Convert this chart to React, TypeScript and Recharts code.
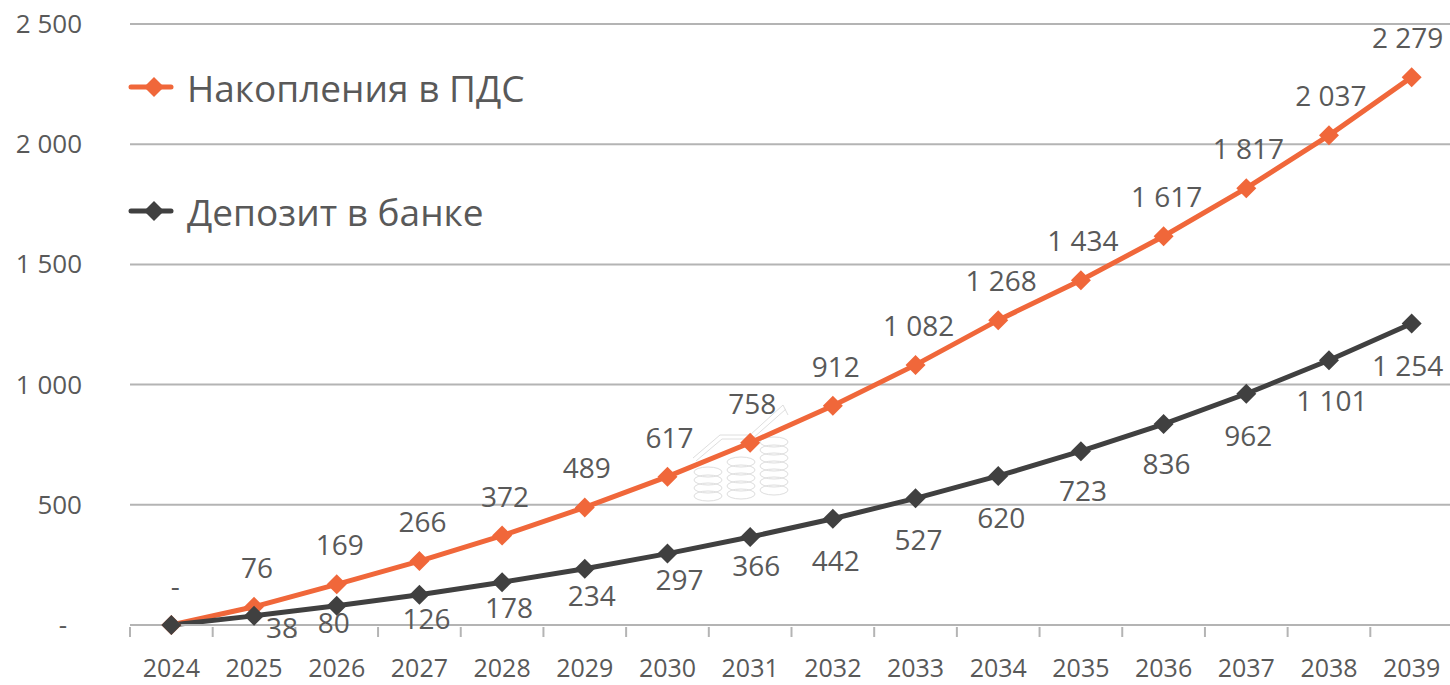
import React from 'react';
import { LineChart, Line, XAxis, YAxis, CartesianGrid, LabelList, Legend } from 'recharts';

const years = ['2024', '2025', '2026', '2027', '2028', '2029', '2030', '2031', '2032', '2033', '2034', '2035', '2036', '2037', '2038', '2039'];
const pdsSavings = [0, 76, 169, 266, 372, 489, 617, 758, 912, 1082, 1268, 1434, 1617, 1817, 2037, 2279];
const bankDeposit = [0, 38, 80, 126, 178, 234, 297, 366, 442, 527, 620, 723, 836, 962, 1101, 1254];
const yTicks = [0, 500, 1000, 1500, 2000, 2500];

// hand placed label offsets, same as in the source picture
const pdsLabelDx = [4, 3, 3, 3, 3, 2, 2, 2, 3, 3, 3, 2, 3, 2, 2, -4];
const depositLabelDx = [0, 28, -3, 7, 7, 7, 12, 6, 3, 3, 3, 2, 3, 2, 3, -4];
const depositLabelDy = [0, 12, 17, 24, 26, 27, 26, 29, 42, 42, 42, 40, 40, 42, 41, 42];

const ORANGE = '#F0673A';
const DARK = '#404040';
const TEXT = '#595959';
const GRID = '#B4B4B4';
const FONT = '"Open Sans", sans-serif';

const data = years.map((year, i) => ({ year, pds: pdsSavings[i], deposit: bankDeposit[i] }));

const formatValue = (v: number) => (v === 0 ? '-' : String(v).replace(/\B(?=(\d{3})+$)/g, ' '));

function Diamond({ cx, cy, fill }: any) {
  const r = 10;
  return <path d={`M${cx} ${cy - r}L${cx + r} ${cy}L${cx} ${cy + r}L${cx - r} ${cy}Z`} fill={fill} />;
}

function XTick({ x, y, payload }: any) {
  const edge = x - payload.offset;
  return (
    <g>
      <line x1={edge} x2={edge} y1={y} y2={y + 10} stroke={GRID} strokeWidth={2} />
      <text x={x} y={y + 50} textAnchor="middle" fontFamily={FONT} fontSize={25} fill={TEXT}>
        {payload.value}
      </text>
    </g>
  );
}

function YTick({ x, y, payload }: any) {
  const isZero = payload.value === 0;
  return (
    <text x={isZero ? x - 15 : x} y={y + 9} textAnchor="end" fontFamily={FONT} fontSize={26} fill={TEXT}>
      {formatValue(payload.value)}
    </text>
  );
}

function PdsLabel({ x, y, value, index }: any) {
  return (
    <text x={x + pdsLabelDx[index]} y={y - 39 + 10} textAnchor="middle" fontFamily={FONT} fontSize={28} fill={TEXT}>
      {formatValue(value)}
    </text>
  );
}

function DepositLabel({ x, y, value, index }: any) {
  if (value === 0) return null;
  return (
    <text x={x + depositLabelDx[index]} y={y + depositLabelDy[index] + 10} textAnchor="middle" fontFamily={FONT} fontSize={28} fill={TEXT}>
      {formatValue(value)}
    </text>
  );
}

function LegendRows({ payload }: any) {
  return (
    <div>
      {(payload || []).map((item: any, i: number) => (
        <div key={item.value} style={{ position: 'absolute', left: 0, top: i * 124, height: 44, display: 'flex', alignItems: 'center' }}>
          <svg width={59} height={44} style={{ display: 'block' }}>
            <line x1={3} x2={43} y1={22} y2={22} stroke={item.color} strokeWidth={5} strokeLinecap="round" />
            <Diamond cx={26} cy={22} fill={item.color} />
          </svg>
          <span style={{ fontFamily: FONT, fontSize: 37, color: TEXT, whiteSpace: 'nowrap' }}>{item.value}</span>
        </div>
      ))}
    </div>
  );
}

// faint coins watermark that sits under the lines
function Watermark() {
  const stacks = [
    { x: 708, top: 472, count: 4 },
    { x: 741, top: 462, count: 5 },
    { x: 774, top: 442, count: 7 },
  ];
  return (
    <svg width={1450} height={685} style={{ position: 'absolute', left: 0, top: 0 }}>
      <g fill="none" stroke="#DEDEDE" strokeWidth={1}>
        {stacks.map((s) =>
          Array.from({ length: s.count }, (_, i) => (
            <ellipse key={`${s.x}-${i}`} cx={s.x} cy={s.top + i * 8} rx={14} ry={5} />
          )),
        )}
        <path d="M693 458L720 435L750 435L783 405L788 415" />
        <path d="M696 461L722 439L752 439L786 409" />
      </g>
    </svg>
  );
}

export default function App() {
  return (
    <div style={{ position: 'absolute', left: 0, top: 0, width: 1450, height: 685, overflow: 'hidden', background: '#fff' }}>
      <Watermark />
      <div style={{ position: 'absolute', left: 0, top: 0 }}>
        <LineChart width={1453} height={685} data={data} margin={{ top: 24, right: 0, bottom: 0, left: 0 }}>
          <CartesianGrid vertical={false} stroke={GRID} strokeWidth={2} />
          <XAxis
            dataKey="year"
            scale="band"
            interval={0}
            height={60}
            axisLine={{ stroke: GRID, strokeWidth: 2 }}
            tickLine={false}
            tickSize={0}
            tick={<XTick />}
          />
          <YAxis
            domain={[0, 2500]}
            ticks={yTicks}
            width={130}
            axisLine={false}
            tickLine={false}
            tickSize={0}
            tickMargin={48}
            tick={<YTick />}
          />
          <Legend
            verticalAlign="top"
            align="left"
            itemSorter={null as any}
            content={<LegendRows />}
            wrapperStyle={{ position: 'absolute', left: 128, top: 65, width: 0, height: 0 }}
          />
          <Line
            dataKey="pds"
            name="Накопления в ПДС"
            stroke={ORANGE}
            strokeWidth={5}
            dot={<Diamond fill={ORANGE} />}
            isAnimationActive={false}
          >
            <LabelList dataKey="pds" content={<PdsLabel />} />
          </Line>
          <Line
            dataKey="deposit"
            name="Депозит в банке"
            stroke={DARK}
            strokeWidth={5}
            dot={<Diamond fill={DARK} />}
            isAnimationActive={false}
          >
            <LabelList dataKey="deposit" content={<DepositLabel />} />
          </Line>
        </LineChart>
      </div>
    </div>
  );
}
